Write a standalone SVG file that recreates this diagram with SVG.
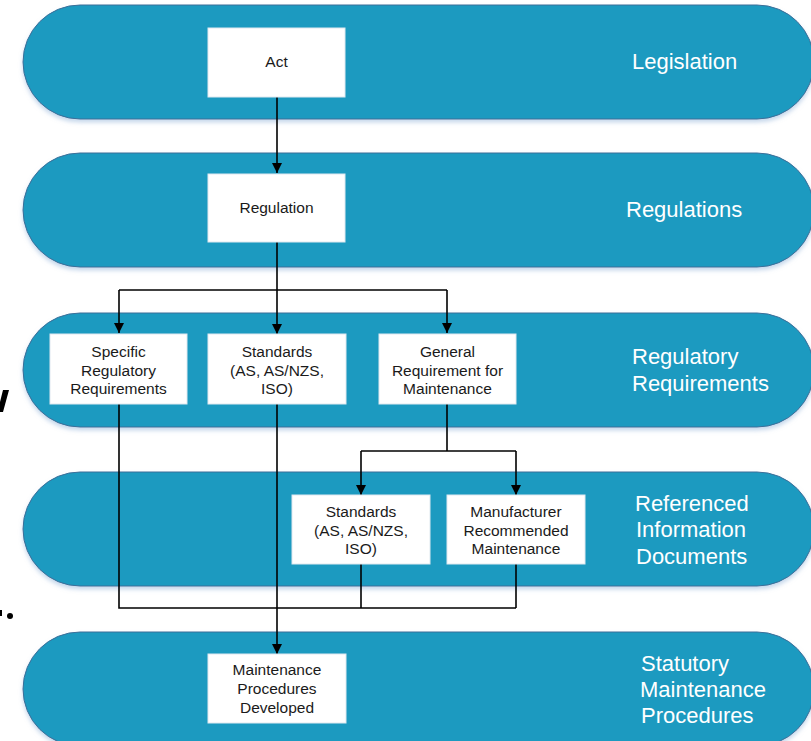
<svg xmlns="http://www.w3.org/2000/svg" width="811" height="741" viewBox="0 0 811 741">
<style>
.band{fill:#1a9ac0;stroke:#3d6e98;stroke-width:1}
.box{fill:#ffffff;stroke:#dfe8ef;stroke-width:1}
.bt{font-family:"Liberation Sans",Arial,sans-serif;font-size:15.5px;fill:#1a1a1a;text-anchor:middle}
.lt{font-family:"Liberation Sans",Arial,sans-serif;font-size:22px;fill:#ffffff}
.ln{fill:none;stroke:#000;stroke-width:1.6}
</style>
<defs>
<filter id="sh" x="-5%" y="-10%" width="110%" height="130%">
<feDropShadow dx="0" dy="3" stdDeviation="2" flood-color="#8fb0d8" flood-opacity="0.5"/>
</filter>
<marker id="ah" markerUnits="userSpaceOnUse" markerWidth="11" markerHeight="11" refX="10" refY="5" orient="auto">
<path d="M0,0 L10,5 L0,10 z" fill="#000"/>
</marker>
</defs>
<rect width="811" height="741" fill="#ffffff"/>
<g id="bands" filter="url(#sh)">
<rect class="band" x="23" y="5" width="791" height="114" rx="57"/>
<rect class="band" x="23" y="153" width="791" height="114" rx="57"/>
<rect class="band" x="23" y="313" width="791" height="114" rx="57"/>
<rect class="band" x="23" y="472" width="791" height="114" rx="57"/>
<rect class="band" x="23" y="632" width="791" height="114" rx="57"/>
</g>
<g id="band-labels">
<text class="lt" x="632" y="69">Legislation</text>
<text class="lt" x="626" y="217">Regulations</text>
<text class="lt" x="632" y="364">Regulatory</text>
<text class="lt" x="632" y="391">Requirements</text>
<text class="lt" x="635" y="511">Referenced</text>
<text class="lt" x="636" y="537">Information</text>
<text class="lt" x="636" y="564">Documents</text>
<text class="lt" x="641" y="671">Statutory</text>
<text class="lt" x="640" y="697">Maintenance</text>
<text class="lt" x="641" y="723">Procedures</text>
</g>
<g id="connectors">
<path class="ln" d="M277,97 V173" marker-end="url(#ah)"/>
<path class="ln" d="M277,242 V290"/>
<path class="ln" d="M119,290 H447"/>
<path class="ln" d="M119,290 V333" marker-end="url(#ah)"/>
<path class="ln" d="M277,290 V334" marker-end="url(#ah)"/>
<path class="ln" d="M447,290 V333" marker-end="url(#ah)"/>
<path class="ln" d="M447,404 V451"/>
<path class="ln" d="M361,451 H516"/>
<path class="ln" d="M361,451 V495" marker-end="url(#ah)"/>
<path class="ln" d="M516,451 V495" marker-end="url(#ah)"/>
<path class="ln" d="M119,404 V608 H516"/>
<path class="ln" d="M361,564 V608"/>
<path class="ln" d="M516,564 V608"/>
<path class="ln" d="M277,404 V654" stroke-width="2" marker-end="url(#ah)"/>
</g>
<g id="act"><rect class="box" x="208" y="28" width="137" height="69"/><text class="bt" x="276.5" y="67">Act</text></g>
<g id="regulation"><rect class="box" x="208" y="174" width="137" height="68"/><text class="bt" x="276.5" y="213">Regulation</text></g>
<g id="specific"><rect class="box" x="50" y="334" width="137" height="70"/>
<text class="bt" x="118.5" y="357">Specific</text><text class="bt" x="118.5" y="375.5">Regulatory</text><text class="bt" x="118.5" y="394">Requirements</text></g>
<g id="standards1"><rect class="box" x="208" y="334" width="138" height="70"/>
<text class="bt" x="277" y="357">Standards</text><text class="bt" x="277" y="375.5">(AS, AS/NZS,</text><text class="bt" x="277" y="394">ISO)</text></g>
<g id="general"><rect class="box" x="379" y="334" width="137" height="70"/>
<text class="bt" x="447.5" y="357">General</text><text class="bt" x="447.5" y="375.5">Requirement for</text><text class="bt" x="447.5" y="394">Maintenance</text></g>
<g id="standards2"><rect class="box" x="292" y="495" width="138" height="69"/>
<text class="bt" x="361" y="517">Standards</text><text class="bt" x="361" y="535.5">(AS, AS/NZS,</text><text class="bt" x="361" y="554">ISO)</text></g>
<g id="manufacturer"><rect class="box" x="447" y="495" width="138" height="69"/>
<text class="bt" x="516" y="517">Manufacturer</text><text class="bt" x="516" y="535.5">Recommended</text><text class="bt" x="516" y="554">Maintenance</text></g>
<g id="procedures"><rect class="box" x="208" y="654" width="138" height="69"/>
<text class="bt" x="277" y="675">Maintenance</text><text class="bt" x="277" y="694">Procedures</text><text class="bt" x="277" y="713">Developed</text></g>
<g id="edge-marks" fill="#000">
<polygon points="3,390 9,390 3,412 0,412 0,402"/>
<rect x="0" y="610" width="2" height="6"/>
<circle cx="10" cy="616" r="3"/>
</g>
</svg>
